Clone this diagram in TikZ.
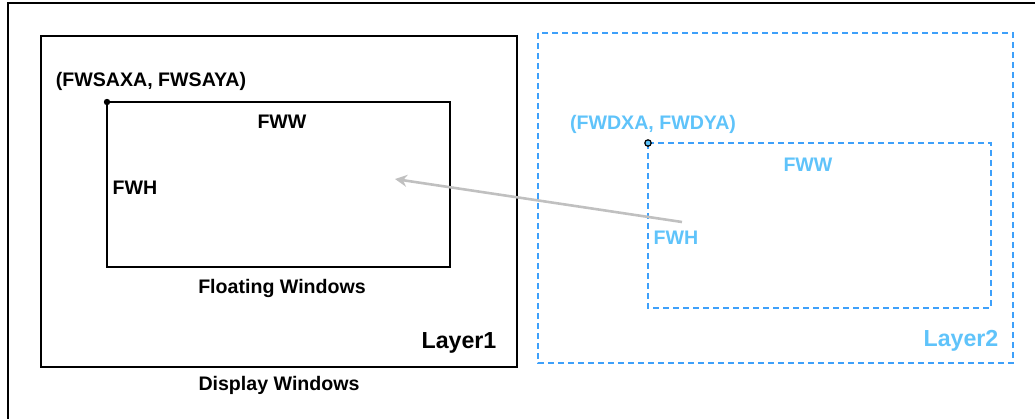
\documentclass[tikz,border=0pt]{standalone}
\usepackage[svgnames]{xcolor}
\usepackage{fontspec}
\setmainfont{Liberation Sans}
\usepackage{tikz}
\usetikzlibrary{arrows.meta}
\definecolor{layertwo}{RGB}{62,160,250}
\definecolor{layertwotext}{RGB}{95,195,250}
\colorlet{moveline}{Silver}

\tikzset{
  lbl/.style={font=\fontsize{9.8}{12}\selectfont\bfseries, inner sep=0pt},
  biglbl/.style={font=\fontsize{11.6}{14}\selectfont\bfseries, inner sep=0pt},
  dashblue/.style={draw=layertwo, line width=0.75pt, dash pattern=on 3pt off 2pt}
}

\begin{document}
\begin{tikzpicture}[x=0.5pt,y=-0.5pt]
\useasboundingbox (0,0) rectangle (1035,419);
% display window
\draw[line width=1pt] (1035,3) -- (8,3) -- (8,419);
\node[lbl] (disp) at (279,385) {Display Windows};
% layer 1
\draw[line width=1pt] (41,36) rectangle (517,367);
\draw[line width=0.6pt] (107,102) coordinate (sa) rectangle (450,267);
\fill (sa) circle (3.2);
\node[lbl] (sapos) at (151,81) {(FWSAXA, FWSAYA)};
\node[lbl] (saw) at (282,122) {FWW};
\node[lbl] (sah) at (135,188) {FWH};
\node[lbl] (float) at (282,288) {Floating Windows};
\node[biglbl] (lone) at (459,343) {Layer1};
% layer 2
\draw[dashblue] (538,33) rectangle (1013,363);
\draw[dashblue] (648,143) coordinate (da) rectangle (991,308);
\node[lbl, layertwotext] (dapos) at (653,124) {(FWDXA, FWDYA)};
\node[lbl, layertwotext] (daw) at (808,165) {FWW};
\node[lbl, layertwotext] (dah) at (676,238) {FWH};
\node[biglbl, layertwotext] (ltwo) at (961,341) {Layer2};
\filldraw[fill=layertwotext, draw=black, line width=0.6pt] (da) circle (3.2);
% move
\coordinate (from) at (682,222);
\coordinate (to) at (395,179);
\draw[moveline, line width=1.3pt, -{Stealth[length=6pt,width=6pt]}] (from) -- (to);
\end{tikzpicture}
\end{document}
